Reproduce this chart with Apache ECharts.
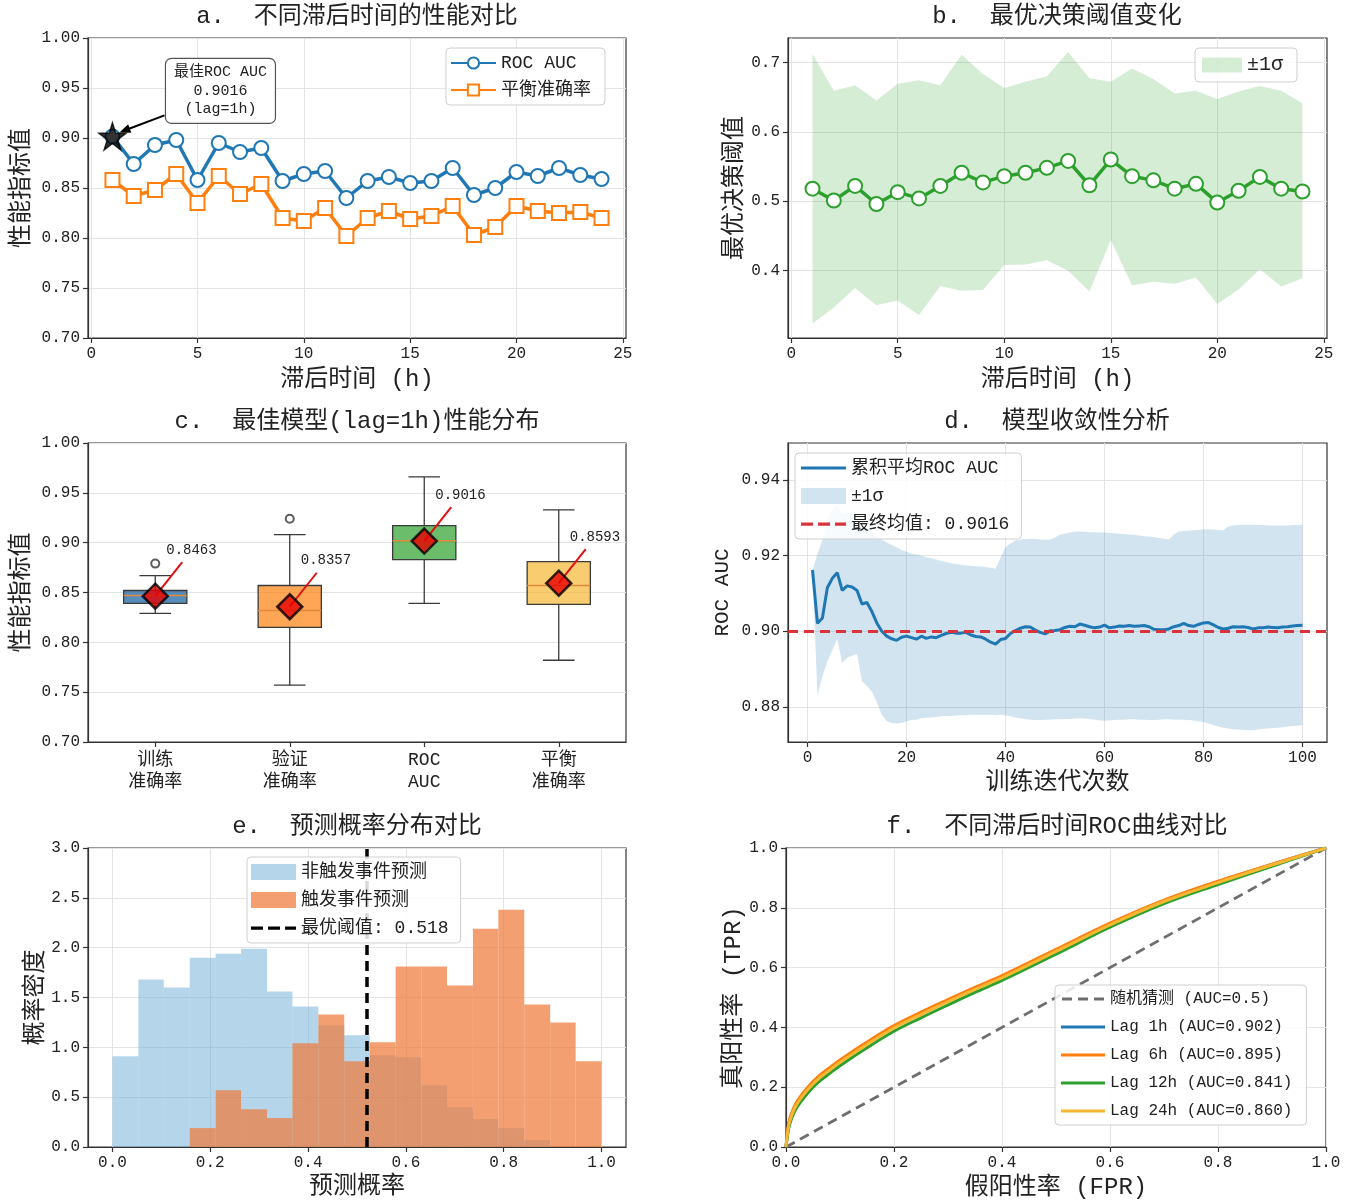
<!DOCTYPE html>
<html><head><meta charset="utf-8">
<script src="https://cdn.jsdelivr.net/npm/echarts@6.0.0/dist/echarts.min.js"></script>
<style>html,body{margin:0;padding:0;background:#fff}#c{width:1354px;height:1204px}</style>
</head><body><div id="c"></div>
<script>
// ---------------- DATA ----------------
const lagHours = [1,2,3,4,5,6,7,8,9,10,11,12,13,14,15,16,17,18,19,20,21,22,23,24];
const rocAuc = [0.9016,0.874,0.893,0.898,0.858,0.895,0.886,0.890,0.857,0.864,0.867,0.840,0.857,0.861,0.855,0.857,0.870,0.843,0.850,0.866,0.862,0.870,0.863,0.859];
const balancedAcc = [0.858,0.842,0.848,0.864,0.835,0.862,0.844,0.854,0.820,0.817,0.830,0.802,0.820,0.827,0.819,0.822,0.832,0.803,0.811,0.832,0.827,0.825,0.826,0.820];
const bestLag = 1;
const bestAuc = 0.9016;

const thrMean  = [0.518,0.501,0.522,0.496,0.513,0.504,0.522,0.541,0.527,0.536,0.541,0.548,0.558,0.523,0.560,0.536,0.530,0.518,0.525,0.498,0.515,0.535,0.518,0.514];
const thrUpper = [0.712,0.659,0.667,0.645,0.669,0.674,0.667,0.711,0.683,0.663,0.672,0.680,0.715,0.677,0.672,0.691,0.676,0.655,0.659,0.647,0.658,0.666,0.659,0.641];
const thrLower = [0.324,0.347,0.375,0.350,0.357,0.336,0.378,0.371,0.372,0.408,0.409,0.415,0.400,0.370,0.444,0.379,0.384,0.381,0.390,0.352,0.373,0.402,0.377,0.389];

const boxCategories = ['训练\n准确率','验证\n准确率','ROC\nAUC','平衡\n准确率'];
// [min, q1, median, q3, max]
const boxStats = [
  [0.829,0.839,0.847,0.852,0.867],
  [0.757,0.815,0.832,0.857,0.908],
  [0.839,0.883,0.902,0.917,0.966],
  [0.782,0.838,0.857,0.881,0.933]
];
const boxOutliers = [[0,0.879],[1,0.924]];
const boxMeans = [0.8463,0.8357,0.9016,0.8593];

const iterations = Array.from({length:100},(_,i)=>i+1);
const cumAuc = [0.9162,0.9021,0.9035,0.9115,0.9140,0.9155,0.9108,0.9120,0.9117,0.9108,
0.9072,0.9076,0.9052,0.9022,0.9000,0.8987,0.8980,0.8976,0.8984,0.8987,
0.8983,0.8979,0.8987,0.8981,0.8985,0.8983,0.8989,0.8994,0.8997,0.8995,
0.8995,0.8997,0.8990,0.8986,0.8985,0.8979,0.8971,0.8966,0.8978,0.8981,
0.8994,0.9002,0.9008,0.9012,0.9011,0.9003,0.8997,0.8993,0.9001,0.9002,
0.9004,0.9010,0.9013,0.9012,0.9019,0.9016,0.9012,0.9009,0.9011,0.9016,
0.9009,0.9011,0.9014,0.9013,0.9015,0.9013,0.9014,0.9015,0.9012,0.9005,
0.9004,0.9004,0.9006,0.9012,0.9015,0.9021,0.9015,0.9013,0.9018,0.9022,
0.9023,0.9017,0.9010,0.9006,0.9008,0.9012,0.9011,0.9012,0.9010,0.9006,
0.9009,0.9009,0.9011,0.9010,0.9009,0.9011,0.9012,0.9014,0.9015,0.9016];
const cumUpper = [0.9162,0.9205,0.9240,0.9300,0.9320,0.9335,0.9310,0.9315,0.9305,0.9295,
0.9280,0.9275,0.9262,0.9250,0.9242,0.9235,0.9228,0.9222,0.9215,0.9210,
0.9205,0.9203,0.9200,0.9196,0.9193,0.9190,0.9186,0.9183,0.9180,0.9178,
0.9176,0.9174,0.9173,0.9172,0.9171,0.9170,0.9168,0.9165,0.9195,0.9222,
0.9232,0.9240,0.9243,0.9244,0.9245,0.9244,0.9243,0.9242,0.9243,0.9248,
0.9255,0.9258,0.9261,0.9263,0.9264,0.9263,0.9262,0.9262,0.9261,0.9261,
0.9260,0.9259,0.9258,0.9257,0.9256,0.9255,0.9253,0.9251,0.9250,0.9249,
0.9247,0.9245,0.9243,0.9256,0.9264,0.9265,0.9266,0.9267,0.9268,0.9270,
0.9270,0.9269,0.9268,0.9267,0.9277,0.9280,0.9281,0.9282,0.9282,0.9282,
0.9281,0.9281,0.9280,0.9280,0.9280,0.9280,0.9280,0.9281,0.9281,0.9282];
const cumLower = [0.9162,0.8830,0.8880,0.8920,0.8950,0.8980,0.8916,0.8930,0.8935,0.8940,
0.8868,0.8855,0.8840,0.8812,0.8780,0.8762,0.8757,0.8756,0.8758,0.8762,
0.8765,0.8766,0.8770,0.8771,0.8772,0.8773,0.8775,0.8776,0.8776,0.8777,
0.8778,0.8778,0.8779,0.8779,0.8779,0.8779,0.8779,0.8778,0.8779,0.8778,
0.8775,0.8772,0.8770,0.8768,0.8766,0.8765,0.8765,0.8766,0.8766,0.8767,
0.8767,0.8768,0.8768,0.8769,0.8770,0.8769,0.8768,0.8766,0.8764,0.8763,
0.8764,0.8765,0.8766,0.8766,0.8767,0.8767,0.8766,0.8766,0.8765,0.8765,
0.8766,0.8767,0.8767,0.8766,0.8766,0.8766,0.8765,0.8764,0.8762,0.8760,
0.8756,0.8752,0.8748,0.8745,0.8743,0.8741,0.8740,0.8739,0.8738,0.8738,
0.8740,0.8742,0.8743,0.8744,0.8745,0.8746,0.8748,0.8749,0.8750,0.8752];
const finalMean = 0.9016;

const histEdges = [0.000,0.053,0.105,0.158,0.211,0.263,0.316,0.368,0.421,0.474,0.526,0.579,0.632,0.684,0.737,0.789,0.842,0.895,0.947,1.000];
const nonTriggerDensity = [0.91,1.68,1.60,1.90,1.94,1.99,1.56,1.41,1.22,1.12,0.92,0.90,0.62,0.40,0.28,0.19,0.07,0,0];
const triggerDensity    = [0,0,0,0.19,0.57,0.38,0.29,1.04,1.33,0.86,1.05,1.81,1.81,1.62,2.19,2.38,1.43,1.25,0.86];
const optThreshold = 0.518;

const rocFpr   = [0,0.005,0.01,0.02,0.04,0.06,0.08,0.10,0.15,0.20,0.25,0.30,0.35,0.40,0.50,0.60,0.70,0.80,0.90,1.00];
const rocLag1  = [0,0.077,0.108,0.148,0.196,0.233,0.261,0.288,0.348,0.403,0.448,0.490,0.531,0.570,0.658,0.746,0.824,0.887,0.945,1.00];
const rocLag6  = [0,0.080,0.111,0.151,0.199,0.236,0.264,0.291,0.351,0.406,0.451,0.493,0.534,0.573,0.661,0.749,0.826,0.889,0.946,1.00];
const rocLag12 = [0,0.062,0.093,0.132,0.180,0.217,0.245,0.272,0.332,0.387,0.432,0.475,0.517,0.557,0.645,0.735,0.814,0.878,0.939,1.00];
const rocLag24 = [0,0.072,0.103,0.143,0.191,0.228,0.256,0.283,0.343,0.398,0.443,0.486,0.527,0.566,0.654,0.743,0.821,0.884,0.943,1.00];
const rocLagHours = [1,6,12,24];
const rocLagAuc = ['0.902','0.895','0.841','0.860'];

// ---------------- STYLE ----------------
const FONT = "'Liberation Mono','Noto Sans CJK SC',monospace";
const TXT = '#222';
const C = {blue:'#1f77b4', orange:'#ff7f0e', green:'#2ca02c', red:'#d62728', yellow:'#f7b733', gray:'#6e6e6e'};
const BOX_FILL = ['rgba(24,96,160,0.72)','rgba(255,127,14,0.7)','rgba(44,160,44,0.7)','rgba(247,183,51,0.7)'];
const LEGEND_TEXT = {b_band:'±1σ', d_band:'±1σ'};
const ICON_LINE16 = 'path://M0,0 M0,16 M0,6.5h45v3h-45z';
const ICON_DASH16 = 'path://M0,0 M0,16 M0,6.5h12v3.2h-12z M17,6.5h12v3.2h-12z M34,6.5h11v3.2h-11z';
const ICON_LINE14 = 'path://M0,0 M0,14 M0,5.5h44v3h-44z';
const ICON_DASH14 = 'path://M0,0 M0,14 M0,5.6h10v2.8h-10z M16,5.6h10v2.8h-10z M32,5.6h10v2.8h-10z';

const G = [
  {left:88,  top:38,  width:538, height:300},
  {left:788, top:38,  width:539, height:300},
  {left:88,  top:443, width:538, height:299},
  {left:788, top:443, width:539, height:299},
  {left:88,  top:848, width:538, height:299},
  {left:786, top:848, width:540, height:299}
];

function mkAxis(gi, o) {
  const ax = {
    gridIndex: gi, type: o.type || 'value',
    axisLine: {show:true, onZero:false, lineStyle:{color:'#333', width:1.2}},
    axisTick: {show:true, length:5, lineStyle:{color:'#333', width:1.2}},
    axisLabel: {color:TXT, fontFamily:FONT, fontSize:16, margin:o.labelMargin || 8},
    splitLine: {show:o.split !== false, lineStyle:{color:'#e4e4e4', width:1}},
    name: o.name || '', nameLocation:'middle', nameGap:o.nameGap || 30,
    nameTextStyle: {fontFamily:FONT, fontSize:o.nameSize || 24, color:TXT}
  };
  if (o.min !== undefined) ax.min = o.min;
  if (o.max !== undefined) ax.max = o.max;
  if (o.ticks) { ax.axisLabel.customValues = o.ticks; ax.axisTick.customValues = o.ticks; }
  if (o.fmt) ax.axisLabel.formatter = o.fmt;
  if (o.data) ax.data = o.data;
  if (o.vertical) ax.nameRotate = 90;
  return ax;
}
const f0 = v => String(Math.round(v));
const f1 = v => v.toFixed(1);
const f2 = v => v.toFixed(2);

const xAxes = [
  mkAxis(0,{min:-0.15,max:25.15,ticks:[0,5,10,15,20,25],fmt:f0,name:'滞后时间 (h)',nameGap:30}),
  mkAxis(1,{min:-0.15,max:25.15,ticks:[0,5,10,15,20,25],fmt:f0,name:'滞后时间 (h)',nameGap:30}),
  mkAxis(2,{type:'category',data:boxCategories,split:false,labelMargin:7}),
  mkAxis(3,{min:-3.95,max:104.95,ticks:[0,20,40,60,80,100],fmt:f0,name:'训练迭代次数',nameGap:29}),
  mkAxis(4,{min:-0.05,max:1.05,ticks:[0,0.2,0.4,0.6,0.8,1.0],fmt:f1,name:'预测概率',nameGap:28}),
  mkAxis(5,{min:0,max:1,ticks:[0,0.2,0.4,0.6,0.8,1.0],fmt:f1,name:'假阳性率 (FPR)',nameGap:29})
];
xAxes[2].axisTick.alignWithLabel = true;
xAxes[2].axisLabel.fontSize = 18;
xAxes[2].axisLabel.lineHeight = 22;

const yAxes = [
  mkAxis(0,{min:0.70,max:1.00,ticks:[0.70,0.75,0.80,0.85,0.90,0.95,1.00],fmt:f2,name:'性能指标值',nameGap:54,vertical:true}),
  mkAxis(1,{min:0.303,max:0.735,ticks:[0.4,0.5,0.6,0.7],fmt:f1,name:'最优决策阈值',nameGap:41,vertical:true}),
  mkAxis(2,{min:0.70,max:1.00,ticks:[0.70,0.75,0.80,0.85,0.90,0.95,1.00],fmt:f2,name:'性能指标值',nameGap:54,vertical:true}),
  mkAxis(3,{min:0.8707,max:0.9498,ticks:[0.88,0.90,0.92,0.94],fmt:f2,name:'ROC AUC',nameGap:55,nameSize:21,vertical:true}),
  mkAxis(4,{min:0,max:3,ticks:[0,0.5,1.0,1.5,2.0,2.5,3.0],fmt:f1,name:'概率密度',nameGap:40,vertical:true}),
  mkAxis(5,{min:0,max:1,ticks:[0,0.2,0.4,0.6,0.8,1.0],fmt:f1,name:'真阳性率 (TPR)',nameGap:39,vertical:true})
];

const STAR = 'path://M50,0 L61.2,34.6 L97.6,34.6 L68.2,56 L79.4,90.5 L50,69.1 L20.6,90.5 L31.8,56 L2.4,34.6 L38.8,34.6 Z';

const titles = [
  ['a.  不同滞后时间的性能对比',357,5],
  ['b.  最优决策阈值变化',1057,5],
  ['c.  最佳模型(lag=1h)性能分布',357,410],
  ['d.  模型收敛性分析',1057,410],
  ['e.  预测概率分布对比',357,815],
  ['f.  不同滞后时间ROC曲线对比',1057,815]
].map(t => ({text:t[0], left:t[1], top:t[2], textAlign:'center', padding:0,
  textStyle:{fontFamily:FONT, fontSize:24, fontWeight:'normal', color:TXT}}));

function legendBase(o) {
  return Object.assign({
    orient:'vertical', selectedMode:false, backgroundColor:'rgba(255,255,255,0.85)', z:20,
    borderColor:'#cfcfcf', borderWidth:1, borderRadius:4,
    itemWidth:45, itemHeight:14, itemGap:10,
    textStyle:{fontFamily:FONT, fontSize:18, color:TXT},
    formatter: n => LEGEND_TEXT[n] || n
  }, o);
}

function bandSeries(name, axisIdx, xs, lo, hi, color) {
  return {type:'custom', name:name, xAxisIndex:axisIdx, yAxisIndex:axisIdx, z:1, silent:true,
    data: xs.map((x,i)=>[x, lo[i], hi[i]]), itemStyle:{color:color},
    renderItem:(params, api) => {
      if (params.dataIndex !== 0) return null;
      const pts = [];
      for (let i = 0; i < xs.length; i++) pts.push(api.coord([xs[i], hi[i]]));
      for (let i = xs.length - 1; i >= 0; i--) pts.push(api.coord([xs[i], lo[i]]));
      return {type:'polygon', shape:{points:pts}, style:{fill:color}};
    }};
}

const series = [];
// ---- a ----
series.push({type:'line', name:'ROC AUC', xAxisIndex:0, yAxisIndex:0, z:3,
  data: lagHours.map((h,i)=>[h, rocAuc[i]]), symbol:'emptyCircle', symbolSize:14,
  lineStyle:{width:3.5, color:C.blue}, itemStyle:{color:C.blue, borderWidth:3}});
series.push({type:'line', name:'平衡准确率', xAxisIndex:0, yAxisIndex:0, z:3,
  data: lagHours.map((h,i)=>[h, balancedAcc[i]]), symbol:'emptyRect', symbolSize:14,
  lineStyle:{width:3.5, color:C.orange}, itemStyle:{color:C.orange, borderWidth:3}});
series.push({type:'scatter', name:'best', xAxisIndex:0, yAxisIndex:0, z:6,
  data:[[bestLag, bestAuc]], symbol:STAR, symbolSize:27,
  itemStyle:{color:'#000', borderColor:'#000', borderWidth:1.5}});
series.push({type:'custom', name:'bestNote', xAxisIndex:0, yAxisIndex:0, z:7, clip:false,
  data:[[bestLag, bestAuc]],
  renderItem:(params, api) => {
    const p = api.coord([api.value(0), api.value(1)]);
    const bx = p[0]+53, by = p[1]-78, bw = 110, bh = 65;
    const sx = p[0]+52, sy = p[1]-21, ex = p[0]+7, ey = p[1]-4;
    const ang = Math.atan2(ey-sy, ex-sx), L = 11, W = 4.5;
    const c = Math.cos(ang), s = Math.sin(ang);
    return {type:'group', children:[
      {type:'line', shape:{x1:sx,y1:sy,x2:ex-L*0.8*c,y2:ey-L*0.8*s}, style:{stroke:'#000', lineWidth:2}},
      {type:'polygon', shape:{points:[[ex,ey],[ex-L*c+W*s, ey-L*s-W*c],[ex-L*c-W*s, ey-L*s+W*c]]}, style:{fill:'#000'}},
      {type:'rect', shape:{x:bx,y:by,width:bw,height:bh,r:6}, style:{fill:'#fff', stroke:'#555', lineWidth:1.2}},
      {type:'text', style:{text:'最佳ROC AUC\n'+bestAuc.toFixed(4)+'\n(lag='+bestLag+'h)', x:bx+bw/2, y:by+bh/2,
        align:'center', verticalAlign:'middle', font:'15px '+FONT, lineHeight:18.5, fill:TXT}}
    ]};
  }});
// ---- b ----
series.push(bandSeries('b_band', 1, lagHours, thrLower, thrUpper, 'rgba(44,160,44,0.2)'));
series.push({type:'line', name:'thr', xAxisIndex:1, yAxisIndex:1, z:4,
  data: lagHours.map((h,i)=>[h, thrMean[i]]), symbol:'emptyCircle', symbolSize:14,
  lineStyle:{width:3.5, color:C.green}, itemStyle:{color:C.green, borderWidth:3.5}});
// ---- c ----
series.push({type:'custom', name:'boxes', xAxisIndex:2, yAxisIndex:2, z:2,
  data: boxStats.map((s,i)=>[i].concat(s)),
  renderItem:(params, api) => {
    const i = api.value(0);
    const pMin = api.coord([i, api.value(1)]), pQ1 = api.coord([i, api.value(2)]);
    const pMed = api.coord([i, api.value(3)]), pQ3 = api.coord([i, api.value(4)]);
    const pMax = api.coord([i, api.value(5)]);
    const band = api.size([1,0])[0], bw = band*0.47, cw = bw*0.5, x = pMed[0];
    const ls = {stroke:'#3a3a3a', lineWidth:1.3};
    return {type:'group', children:[
      {type:'line', shape:{x1:x,y1:pQ3[1],x2:x,y2:pMax[1]}, style:ls},
      {type:'line', shape:{x1:x,y1:pQ1[1],x2:x,y2:pMin[1]}, style:ls},
      {type:'line', shape:{x1:x-cw/2,y1:pMax[1],x2:x+cw/2,y2:pMax[1]}, style:ls},
      {type:'line', shape:{x1:x-cw/2,y1:pMin[1],x2:x+cw/2,y2:pMin[1]}, style:ls},
      {type:'rect', shape:{x:x-bw/2,y:pQ3[1],width:bw,height:pQ1[1]-pQ3[1]}, style:{fill:BOX_FILL[params.dataIndex], stroke:'#3a3a3a', lineWidth:1.3}},
      {type:'line', shape:{x1:x-bw/2,y1:pMed[1],x2:x+bw/2,y2:pMed[1]}, style:{stroke:'#e0883c', lineWidth:1.5}}
    ]};
  }});
series.push({type:'scatter', name:'outliers', xAxisIndex:2, yAxisIndex:2, z:3,
  data: boxOutliers, symbol:'emptyCircle', symbolSize:8, itemStyle:{color:'#333', borderWidth:1.2}});
series.push({type:'custom', name:'meanNote', xAxisIndex:2, yAxisIndex:2, z:4,
  data: boxMeans.map((m,i)=>[i,m]),
  renderItem:(params, api) => {
    const p = api.coord([api.value(0), api.value(1)]);
    return {type:'group', children:[
      {type:'line', shape:{x1:p[0],y1:p[1],x2:p[0]+27,y2:p[1]-34}, style:{stroke:'#e01010', lineWidth:2}},
      {type:'text', style:{text:api.value(1).toFixed(4), x:p[0]+11, y:p[1]-46, align:'left', verticalAlign:'middle',
        font:'14px '+FONT, fill:TXT}}
    ]};
  }});
series.push({type:'scatter', name:'means', xAxisIndex:2, yAxisIndex:2, z:5,
  data: boxMeans.map((m,i)=>[i,m]), symbol:'diamond', symbolSize:25,
  itemStyle:{color:'#e60000', borderColor:'#000', borderWidth:2.5}});
// ---- d ----
series.push(bandSeries('d_band', 3, iterations, cumLower, cumUpper, 'rgba(31,119,180,0.2)'));
series.push({type:'line', name:'累积平均ROC AUC', xAxisIndex:3, yAxisIndex:3, z:4, symbol:'none',
  data: iterations.map((t,i)=>[t, cumAuc[i]]), lineStyle:{width:3, color:C.blue}, itemStyle:{color:C.blue}});
const finalName = '最终均值: ' + finalMean.toFixed(4);
series.push({type:'line', name:finalName, xAxisIndex:3, yAxisIndex:3, z:5, symbol:'none', data:[],
  lineStyle:{width:3, color:'#d9343c', type:[9,6]}, itemStyle:{color:'#d9343c'},
  markLine:{silent:true, symbol:['none','none'], label:{show:false}, animation:false,
    lineStyle:{width:3, color:'#d9343c', type:[10,6]}, data:[{yAxis:finalMean}]}});
// ---- e ----
function histRender(color) {
  return (params, api) => {
    const a = api.coord([api.value(0), api.value(2)]);
    const b = api.coord([api.value(1), 0]);
    return {type:'rect', shape:{x:a[0], y:a[1], width:b[0]-a[0], height:b[1]-a[1]}, style:{fill:color}};
  };
}
const blueFill = 'rgba(107,174,214,0.5)', orangeFill = 'rgba(238,122,60,0.72)';
series.push({type:'custom', name:'非触发事件预测', xAxisIndex:4, yAxisIndex:4, z:2,
  data: nonTriggerDensity.map((h,i)=>[histEdges[i], histEdges[i+1], h]).filter(d=>d[2]>0),
  itemStyle:{color:blueFill}, renderItem:histRender(blueFill)});
series.push({type:'custom', name:'触发事件预测', xAxisIndex:4, yAxisIndex:4, z:3,
  data: triggerDensity.map((h,i)=>[histEdges[i], histEdges[i+1], h]).filter(d=>d[2]>0),
  itemStyle:{color:orangeFill}, renderItem:histRender(orangeFill)});
const thrName = '最优阈值: ' + optThreshold;
series.push({type:'line', name:thrName, xAxisIndex:4, yAxisIndex:4, z:5, symbol:'none', data:[],
  lineStyle:{width:3, color:'#000', type:[9,6]}, itemStyle:{color:'#000'},
  markLine:{silent:true, symbol:['none','none'], label:{show:false}, animation:false,
    lineStyle:{width:3.5, color:'#000', type:[10,6]}, data:[{xAxis:optThreshold}]}});
// ---- f ----
series.push({type:'line', name:'随机猜测 (AUC=0.5)', xAxisIndex:5, yAxisIndex:5, z:2, symbol:'none',
  data:[[0,0],[1,1]], lineStyle:{width:2.8, color:C.gray, type:[10,6]}, itemStyle:{color:C.gray}});
const rocSets = [rocLag1, rocLag6, rocLag12, rocLag24];
const rocColors = [C.blue, C.orange, C.green, C.yellow];
const rocNames = rocLagHours.map((h,i)=>'Lag ' + h + 'h (AUC=' + rocLagAuc[i] + ')');
rocSets.forEach((arr, k) => {
  series.push({type:'line', name:rocNames[k], xAxisIndex:5, yAxisIndex:5, z:3+k, symbol:'none', smooth:0.35,
    data: rocFpr.map((x,i)=>[x, arr[i]]), lineStyle:{width:3, color:rocColors[k]}, itemStyle:{color:rocColors[k]}});
});

const option = {
  animation:false,
  backgroundColor:'#fff',
  title: titles,
  grid: G.map(g => Object.assign({show:true, borderColor:'#333', borderWidth:1.2, backgroundColor:'transparent'}, g)),
  xAxis: xAxes,
  yAxis: yAxes,
  legend: [
    legendBase({left:446, top:48, padding:[6,14,6,4], itemGap:9, data:['ROC AUC','平衡准确率']}),
    legendBase({left:1195, top:48, padding:[7,14,7,7], itemWidth:40, itemHeight:15, data:[{name:'b_band', icon:'rect'}], textStyle:{fontFamily:FONT, fontSize:20, color:TXT}}),
    legendBase({left:795, top:453, padding:[6,12,6,6], itemGap:10, itemHeight:16,
      data:[{name:'累积平均ROC AUC', icon:ICON_LINE16}, {name:'d_band', icon:'rect'}, {name:finalName, icon:ICON_DASH16}]}),
    legendBase({left:247, top:857, padding:[6,12,6,4], itemGap:10, itemHeight:16,
      data:[{name:'非触发事件预测', icon:'rect'}, {name:'触发事件预测', icon:'rect'}, {name:thrName, icon:ICON_DASH16}]}),
    legendBase({left:1055, top:985, padding:[6,14,6,6], itemGap:12, itemWidth:44, itemHeight:14,
      textStyle:{fontFamily:FONT, fontSize:16, color:TXT},
      data:[{name:'随机猜测 (AUC=0.5)', icon:ICON_DASH14}].concat(rocNames.map(n=>({name:n, icon:ICON_LINE14})))})
  ],
  series: series
};
const chart = echarts.init(document.getElementById('c'), null, {renderer:'canvas'});
chart.setOption(option);
</script></body></html>
